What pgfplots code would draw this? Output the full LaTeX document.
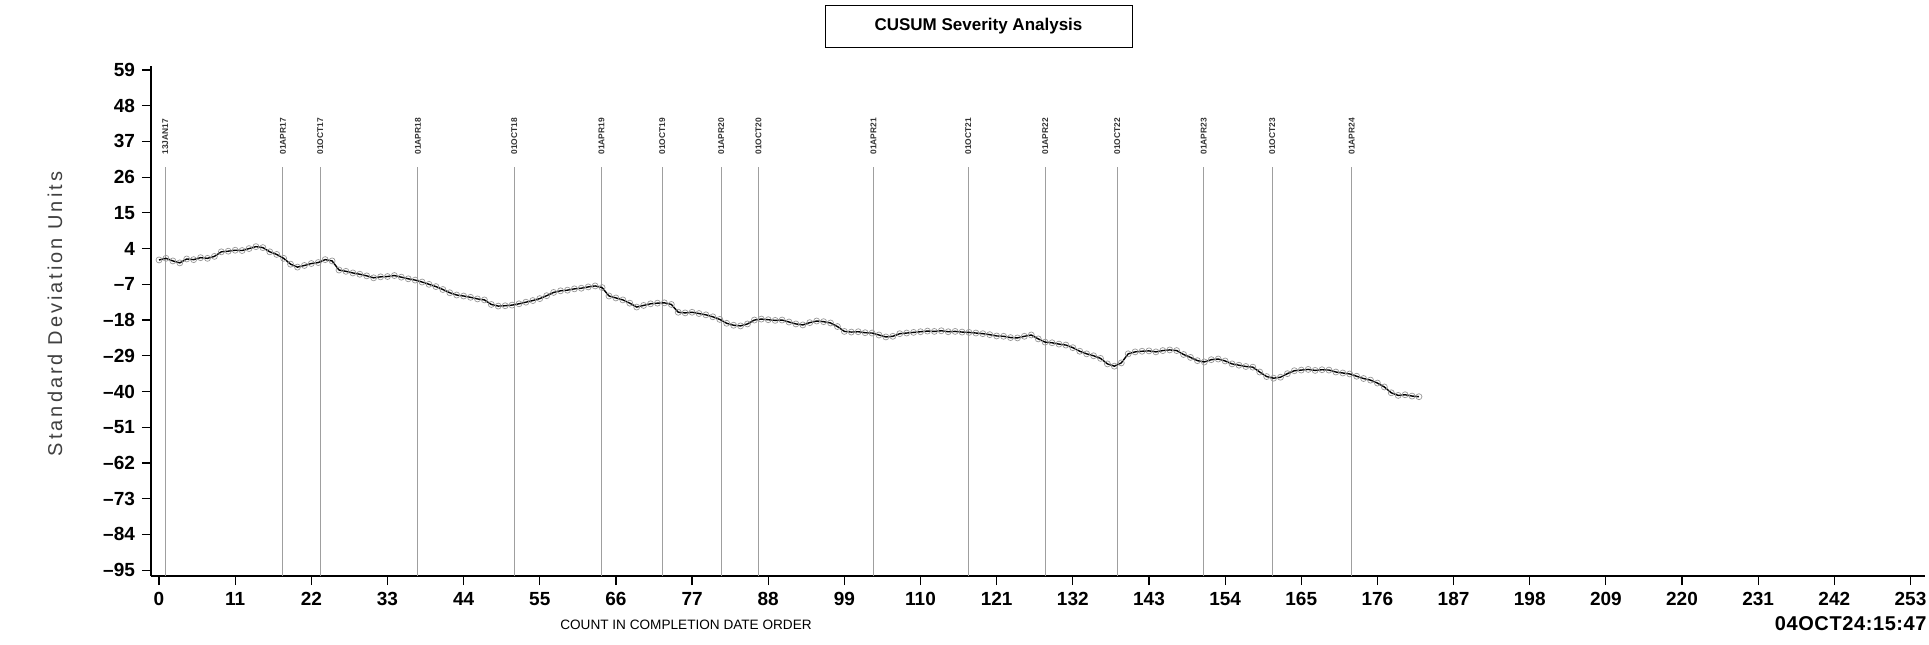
\documentclass[border=0pt]{standalone}
\usepackage{pgfplots}
\usepackage{pgfplotstable}
\pgfplotsset{compat=1.18}
\usepackage{fontspec}
\setmainfont{Liberation Sans}

% cumulative sum, one value per case in completion order
\pgfplotstableread{
n v
0 0.5
1 1.0
2 0.2
3 -0.4
4 0.8
5 0.6
6 1.2
7 1.0
8 1.6
9 3.0
10 3.2
11 3.5
12 3.4
13 4.0
14 4.6
15 4.3
16 3.0
17 2.2
18 1.0
19 -0.8
20 -1.7
21 -1.2
22 -0.6
23 -0.3
24 0.6
25 0.2
26 -2.6
27 -3.0
28 -3.5
29 -3.9
30 -4.4
31 -5.0
32 -4.7
33 -4.6
34 -4.3
35 -4.8
36 -5.3
37 -5.7
38 -6.3
39 -7.0
40 -7.7
41 -8.6
42 -9.6
43 -10.3
44 -10.6
45 -11.0
46 -11.5
47 -11.8
48 -13.2
49 -13.7
50 -13.6
51 -13.4
52 -13.0
53 -12.5
54 -12.0
55 -11.4
56 -10.5
57 -9.5
58 -9.0
59 -8.8
60 -8.4
61 -8.2
62 -7.8
63 -7.5
64 -8.0
65 -10.6
66 -11.2
67 -11.8
68 -12.8
69 -14.0
70 -13.5
71 -13.0
72 -12.8
73 -12.7
74 -13.2
75 -15.6
76 -15.8
77 -15.6
78 -16.0
79 -16.4
80 -17.0
81 -17.8
82 -19.0
83 -19.6
84 -19.8
85 -19.2
86 -18.0
87 -17.7
88 -17.9
89 -18.1
90 -18.0
91 -18.6
92 -19.2
93 -19.5
94 -18.8
95 -18.3
96 -18.5
97 -18.9
98 -20.0
99 -21.5
100 -21.7
101 -21.6
102 -21.9
103 -22.0
104 -22.6
105 -23.2
106 -23.0
107 -22.2
108 -22.0
109 -21.8
110 -21.6
111 -21.4
112 -21.5
113 -21.3
114 -21.6
115 -21.5
116 -21.7
117 -21.8
118 -22.0
119 -22.2
120 -22.5
121 -22.9
122 -23.0
123 -23.4
124 -23.5
125 -23.0
126 -22.6
127 -23.8
128 -24.8
129 -25.0
130 -25.4
131 -25.7
132 -26.5
133 -27.6
134 -28.4
135 -29.0
136 -29.8
137 -31.5
138 -32.2
139 -31.2
140 -28.4
141 -27.8
142 -27.6
143 -27.5
144 -27.8
145 -27.4
146 -27.2
147 -27.4
148 -28.6
149 -29.5
150 -30.5
151 -30.9
152 -30.2
153 -30.0
154 -30.6
155 -31.5
156 -31.9
157 -32.3
158 -32.5
159 -34.0
160 -35.4
161 -35.9
162 -35.6
163 -34.5
164 -33.6
165 -33.4
166 -33.2
167 -33.5
168 -33.3
169 -33.4
170 -34.0
171 -34.3
172 -34.6
173 -35.3
174 -36.0
175 -36.5
176 -37.4
177 -38.6
178 -40.4
179 -41.2
180 -41.0
181 -41.4
182 -41.6
}\cusum

% a dated reference line with its rotated label
\newcommand\datemark[2]{%
  \draw[gray!75, line width=0.5pt] (axis cs:#1,-96.8) -- (axis cs:#1,29.1);
  \node[rotate=90, anchor=west, inner sep=0pt, text=black!80,
        font=\fontsize{4.2}{4}\selectfont\bfseries] at (axis cs:#1,32.8) {#2};}

\begin{document}
\begin{tikzpicture}
\path[use as bounding box] (0pt,0pt) rectangle (964.5pt,-322pt);

\begin{axis}[
  scale only axis,
  width=887pt, height=255pt,
  at={(75.5pt,-288pt)}, anchor=south west,
  xmin=-1.16, xmax=255.1,
  ymin=-96.8, ymax=60.2,
  axis lines*=left,
  axis line style={line width=1pt, -},
  xtick={0,11,...,253},
  ytick={-95,-84,...,59},
  yticklabels={--95,--84,--73,--62,--51,--40,--29,--18,--7,4,15,26,37,48,59},
  tick align=outside,
  major tick length=4.5pt,
  tick style={black, line width=0.6pt},
  /pgf/number format/assume math mode=true,
  ticklabel style={font=\fontsize{9.5}{9.5}\selectfont\bfseries},
  clip=false,
]
\datemark{0.9}{13JAN17}
\datemark{17.9}{01APR17}
\datemark{23.3}{01OCT17}
\datemark{37.4}{01APR18}
\datemark{51.3}{01OCT18}
\datemark{63.9}{01APR19}
\datemark{72.7}{01OCT19}
\datemark{81.2}{01APR20}
\datemark{86.6}{01OCT20}
\datemark{103.2}{01APR21}
\datemark{116.9}{01OCT21}
\datemark{128.0}{01APR22}
\datemark{138.4}{01OCT22}
\datemark{150.9}{01APR23}
\datemark{160.8}{01OCT23}
\datemark{172.3}{01APR24}

\addplot[black, line width=0.7pt, mark=o, mark size=1.5pt,
  mark options={gray!80, line width=0.35pt, solid}] table[x=n, y=v] {\cusum};
\end{axis}

% title box
\draw[line width=0.5pt] (412.5pt,-2.5pt) rectangle (566pt,-23.5pt);
\node[font=\fontsize{8.5}{9}\selectfont\bfseries] at (489.25pt,-13pt) {CUSUM Severity Analysis};

% axis titles
\node[rotate=90, text=black!75, font=\fontsize{10}{10}\selectfont\addfontfeature{LetterSpace=15}]
  at (27.5pt,-157pt) {Standard Deviation Units};
\node[font=\fontsize{6.8}{7}\selectfont] at (343pt,-312.5pt) {COUNT IN COMPLETION DATE ORDER};

% time stamp
\node[anchor=east, inner sep=0pt, font=\fontsize{10}{11}\selectfont\bfseries\addfontfeature{LetterSpace=3}]
  at (963.5pt,-312pt) {04OCT24:15:47};
\end{tikzpicture}
\end{document}
